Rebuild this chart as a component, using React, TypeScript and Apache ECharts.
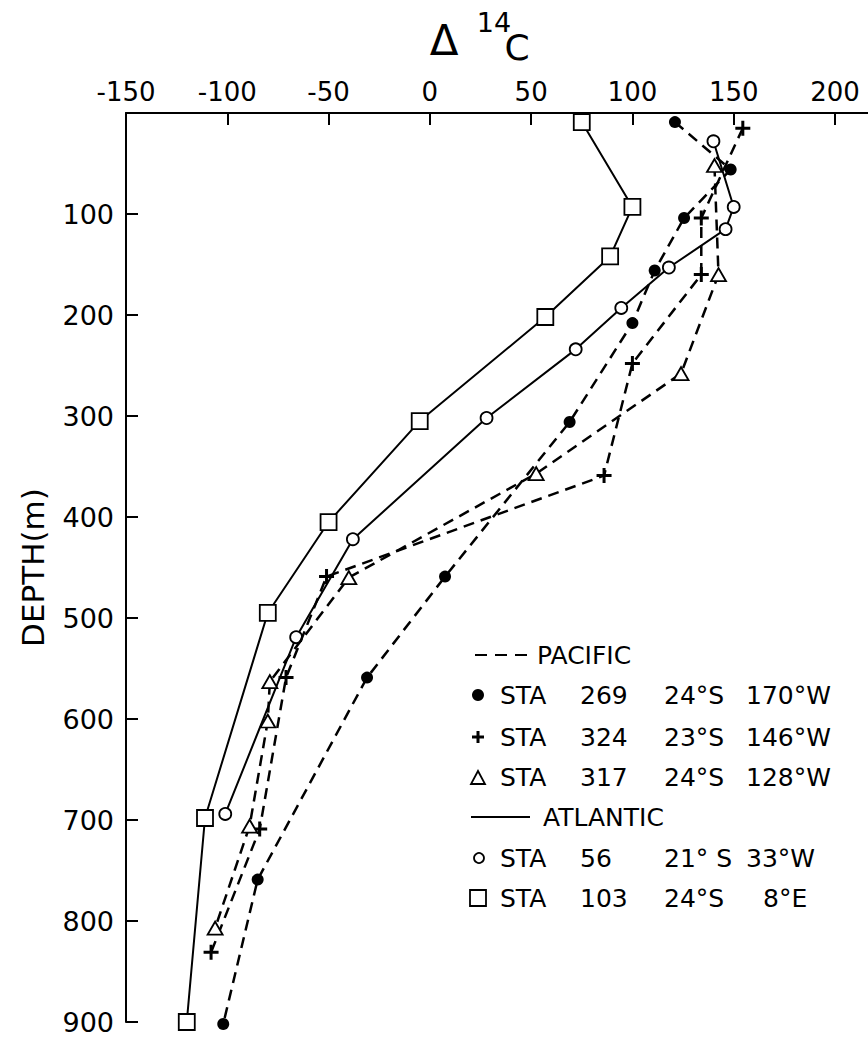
import React, { useEffect, useRef } from "react";
import * as echarts from "echarts";

// ---- Data (Δ14C in ‰, depth in m) ----
const sta269Depth = [9, 56, 104, 156, 208, 306, 459, 559, 759, 902];
const sta269D14C = [121, 148.5, 125.5, 111, 100, 69, 7.5, -31, -85, -102];

const sta324Depth = [15, 104, 160, 248, 359, 459, 559, 709, 831];
const sta324D14C = [154.5, 134, 134, 100, 86, -51, -71, -84, -108];

const sta317Depth = [52, 160, 258, 357, 460, 563, 602, 706, 807];
const sta317D14C = [140.5, 142.5, 124, 52.5, -40, -79, -80, -89, -106];

const sta56Depth = [28, 93, 115, 153, 193, 234, 302, 422, 519, 694];
const sta56D14C = [140, 150, 146, 118, 94.5, 72, 28, -38, -66, -101];

const sta103Depth = [9, 93, 142, 202, 305, 405, 495, 698, 900];
const sta103D14C = [75, 100, 89, 57, -5, -50, -80, -111, -120];

const xTicks = [-150, -100, -50, 0, 50, 100, 150, 200];
const yTicks = [100, 200, 300, 400, 500, 600, 700, 800, 900];

const legendStations = ["STA", "STA", "STA", "STA", "STA"];
const legendNumbers = ["269", "324", "317", "56", "103"];
const legendLat = ["24°S", "23°S", "24°S", "21° S", "24°S"];
const legendLon = ["170°W", "146°W", "128°W", "33°W", "8°E"];
const legendHeaders = ["PACIFIC", "ATLANTIC"];

const FONT = "DejaVu Sans";
const PLUS_PATH = "path://M6,0H9V6H15V9H9V15H6V9H0V6H6Z";

function pairs(xs: number[], ys: number[]) {
  return xs.map((x, i) => [x, ys[i]]);
}

export default function App() {
  const ref = useRef<HTMLDivElement>(null);

  useEffect(() => {
    if (!ref.current) return;
    const chart = echarts.init(ref.current, null, { renderer: "svg" });

    const dashed = { color: "#000", width: 2.5, type: [11, 7] as any };
    const solid = { color: "#000", width: 2, type: "solid" as any };

    const rowY = [655, 695, 737, 777, 817, 858, 898];
    const mx = 478;
    const txt = (text: string, x: number, y: number, size = 25) => ({
      type: "text",
      x,
      y,
      style: {
        text,
        fill: "#000",
        font: `${size}px "${FONT}"`,
        textAlign: "left",
        textVerticalAlign: "middle",
      },
      silent: true,
    });

    const stationRows = [rowY[1], rowY[2], rowY[3], rowY[5], rowY[6]];
    const legendElems: any[] = [];
    legendElems.push({
      type: "line",
      shape: { x1: 475, y1: rowY[0], x2: 531, y2: rowY[0] },
      style: { stroke: "#000", lineWidth: 2.2, lineDash: [12, 8] },
    });
    legendElems.push(txt(legendHeaders[0], 537, rowY[0]));
    legendElems.push({
      type: "line",
      shape: { x1: 471, y1: rowY[4], x2: 530, y2: rowY[4] },
      style: { stroke: "#000", lineWidth: 2 },
    });
    legendElems.push(txt(legendHeaders[1], 543, rowY[4]));
    legendElems.push({
      type: "circle",
      shape: { cx: mx, cy: stationRows[0], r: 6 },
      style: { fill: "#000" },
    });
    legendElems.push({
      type: "rect",
      shape: { x: mx - 6, y: stationRows[1] - 1.5, width: 12, height: 3 },
      style: { fill: "#000" },
    });
    legendElems.push({
      type: "rect",
      shape: { x: mx - 1.5, y: stationRows[1] - 6, width: 3, height: 12 },
      style: { fill: "#000" },
    });
    legendElems.push({
      type: "polygon",
      shape: {
        points: [
          [mx - 7, stationRows[2] + 7],
          [mx + 7, stationRows[2] + 7],
          [mx, stationRows[2] - 6],
        ],
      },
      style: { fill: "#fff", stroke: "#000", lineWidth: 1.8 },
    });
    legendElems.push({
      type: "circle",
      shape: { cx: mx + 1, cy: stationRows[3], r: 5 },
      style: { fill: "#fff", stroke: "#000", lineWidth: 1.8 },
    });
    legendElems.push({
      type: "rect",
      shape: { x: mx - 8, y: stationRows[4] - 8, width: 16, height: 16 },
      style: { fill: "#fff", stroke: "#000", lineWidth: 1.8 },
    });
    stationRows.forEach((y, i) => {
      legendElems.push(txt(legendStations[i], 500, y));
      legendElems.push(txt(legendNumbers[i], 580, y));
      legendElems.push(txt(legendLat[i], 664, y));
      legendElems.push(txt(legendLon[i], legendLon[i] === "8°E" ? 763 : 746, y));
    });

    const titleElems: any[] = [
      {
        type: "text",
        x: 444,
        y: 40,
        style: { text: "Δ", fill: "#000", font: `42px "${FONT}"`, textAlign: "center", textVerticalAlign: "middle" },
      },
      {
        type: "text",
        x: 494,
        y: 22,
        style: { text: "14", fill: "#000", font: `27px "${FONT}"`, textAlign: "center", textVerticalAlign: "middle" },
      },
      {
        type: "text",
        x: 517,
        y: 47,
        style: { text: "C", fill: "#000", font: `36px "${FONT}"`, textAlign: "center", textVerticalAlign: "middle" },
      },
    ];

    const option: any = {
      animation: false,
      backgroundColor: "#fff",
      textStyle: { fontFamily: FONT, color: "#000" },
      grid: { left: 126, top: 113, width: 742, height: 909, containLabel: false },
      xAxis: {
        type: "value",
        position: "top",
        min: -150,
        max: 216.3,
        interval: 50,
        axisLine: { show: true, onZero: false, lineStyle: { color: "#000", width: 2 } },
        axisTick: {
          show: true,
          inside: true,
          length: 12,
          lineStyle: { color: "#000", width: 2 },
        },
        axisLabel: {
          fontSize: 26,
          color: "#000",
          margin: 8,
          showMaxLabel: false,
          formatter: (v: number) => (xTicks.indexOf(v) >= 0 ? String(v) : ""),
        },
        splitLine: { show: false },
      },
      yAxis: {
        type: "value",
        inverse: true,
        min: 0,
        max: 900,
        interval: 100,
        name: "DEPTH(m)",
        nameLocation: "middle",
        nameRotate: 90,
        nameGap: 78,
        nameTextStyle: { fontSize: 31, color: "#000", fontFamily: FONT },
        axisLine: { show: true, onZero: false, lineStyle: { color: "#000", width: 2 } },
        axisTick: {
          show: true,
          inside: true,
          length: 12,
          lineStyle: { color: "#000", width: 2 },
        },
        axisLabel: {
          fontSize: 27,
          lineHeight: 22,
          color: "#000",
          margin: 12,
          formatter: (v: number) => (yTicks.indexOf(v) >= 0 ? String(v) : ""),
        },
        splitLine: { show: false },
      },
      series: [
        {
          name: "STA 103",
          type: "line",
          data: pairs(sta103D14C, sta103Depth),
          symbol: "rect",
          symbolSize: 16,
          showAllSymbol: true,
          clip: false,
          lineStyle: solid,
          itemStyle: { color: "#fff", borderColor: "#000", borderWidth: 1.8 },
          z: 2,
        },
        {
          name: "STA 56",
          type: "line",
          data: pairs(sta56D14C, sta56Depth),
          symbol: "circle",
          symbolSize: 12,
          showAllSymbol: true,
          clip: false,
          lineStyle: solid,
          itemStyle: { color: "#fff", borderColor: "#000", borderWidth: 1.8 },
          z: 2,
        },
        {
          name: "STA 269",
          type: "line",
          data: pairs(sta269D14C, sta269Depth),
          symbol: "circle",
          symbolSize: 12,
          showAllSymbol: true,
          clip: false,
          lineStyle: dashed,
          itemStyle: { color: "#000", borderColor: "#000", borderWidth: 0 },
          z: 3,
        },
        {
          name: "STA 324",
          type: "line",
          data: pairs(sta324D14C, sta324Depth),
          symbol: PLUS_PATH,
          symbolSize: 15,
          showAllSymbol: true,
          clip: false,
          lineStyle: dashed,
          itemStyle: { color: "#000", borderWidth: 0 },
          z: 3,
        },
        {
          name: "STA 317",
          type: "line",
          data: pairs(sta317D14C, sta317Depth),
          symbol: "triangle",
          symbolSize: [15, 13],
          showAllSymbol: true,
          clip: false,
          lineStyle: dashed,
          itemStyle: { color: "#fff", borderColor: "#000", borderWidth: 1.8 },
          z: 3,
        },
      ],
      graphic: [...titleElems, ...legendElems],
    };

    chart.setOption(option);
    return () => chart.dispose();
  }, []);

  return (
    <div
      ref={ref}
      style={{ position: "absolute", left: 0, top: 0, width: 868, height: 1037, background: "#fff" }}
    />
  );
}
